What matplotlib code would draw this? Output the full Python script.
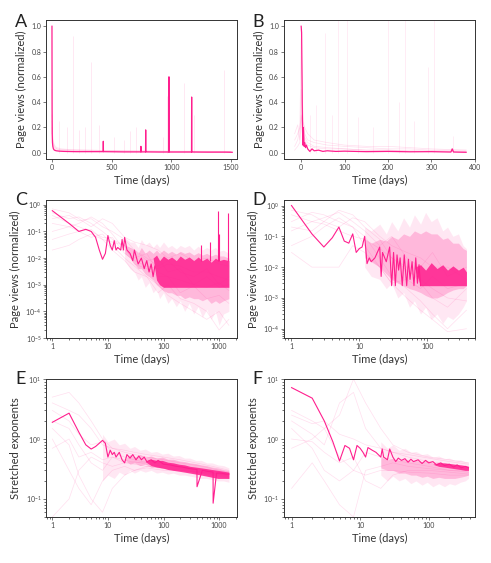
import matplotlib
matplotlib.use("Agg")
import matplotlib.pyplot as plt
from matplotlib.ticker import NullFormatter

plt.rcParams['font.family'] = ['Lato', 'DejaVu Sans']

MAIN = "#ff1f8e"
FAINT = "#ff4da6"

# ---------------- panel A (linear, full range) ----------------
A_main_t = [0, 1, 2, 4, 7, 12, 20, 35, 60, 100, 200, 300, 429, 430, 431, 600,
            744, 745, 746, 784, 785, 786, 900, 979, 980, 981, 1100, 1169, 1170,
            1171, 1300, 1450, 1510]
A_main_v = [1.0, 0.35, 0.15, 0.08, 0.05, 0.03, 0.02, 0.015, 0.012, 0.01, 0.008,
            0.008, 0.008, 0.09, 0.008, 0.006, 0.006, 0.05, 0.006, 0.006, 0.18,
            0.006, 0.005, 0.005, 0.6, 0.005, 0.005, 0.005, 0.44, 0.005, 0.004,
            0.004, 0.003]
A_faint_t = [0, 2, 5, 10, 20, 40, 80, 150, 300, 600, 1000, 1500]
A_faint = [
    [0.3, 0.2, 0.12, 0.08, 0.05, 0.03, 0.02, 0.02, 0.015, 0.01, 0.01, 0.008],
    [0.25, 0.15, 0.1, 0.06, 0.04, 0.03, 0.025, 0.02, 0.02, 0.015, 0.012, 0.01],
    [0.15, 0.2, 0.08, 0.05, 0.03, 0.02, 0.015, 0.01, 0.01, 0.008, 0.006, 0.005],
    [0.5, 0.3, 0.15, 0.1, 0.06, 0.04, 0.03, 0.025, 0.02, 0.015, 0.01, 0.01],
]
A_spike_t = [60, 130, 175, 230, 280, 330, 390, 520, 600, 650, 700, 930, 960, 1110, 1190, 1440]
A_spike_h = [0.25, 0.2, 0.92, 0.18, 0.2, 0.72, 0.22, 0.12, 0.1, 0.17, 0.2, 0.12, 0.45, 0.55, 0.3, 0.65]

# ---------------- panel B (linear, one year) ----------------
B_main_t = [0, 1, 2, 3, 4, 5, 6, 7, 8, 10, 12, 15, 20, 25, 30, 40, 50, 60, 80,
            100, 150, 200, 250, 300, 345, 348, 351, 380]
B_main_v = [1.0, 0.95, 0.6, 0.2, 0.06, 0.2, 0.12, 0.05, 0.08, 0.04, 0.06, 0.03,
            0.01, 0.03, 0.015, 0.02, 0.01, 0.015, 0.01, 0.012, 0.008, 0.01,
            0.007, 0.008, 0.005, 0.03, 0.005, 0.003]
B_faint_t = [-15, -8, -3, 0, 3, 8, 15, 30, 60, 100, 150, 200, 250, 300, 380]
B_faint = [
    [0.15, 0.22, 0.1, 0.25, 0.3, 0.15, 0.1, 0.08, 0.06, 0.05, 0.04, 0.03, 0.03, 0.02, 0.02],
    [0.05, 0.1, 0.2, 0.3, 0.2, 0.1, 0.06, 0.04, 0.03, 0.03, 0.02, 0.02, 0.015, 0.015, 0.01],
    [0.02, 0.05, 0.08, 0.5, 0.25, 0.2, 0.15, 0.1, 0.08, 0.06, 0.05, 0.05, 0.04, 0.03, 0.02],
    [0.1, 0.15, 0.2, 0.9, 0.4, 0.12, 0.08, 0.05, 0.04, 0.03, 0.02, 0.02, 0.01, 0.01, 0.01],
]
B_spike_t = [20, 35, 55, 70, 85, 105, 130, 165, 200, 225, 240, 260, 293, 307, 350]
B_spike_h = [0.3, 0.38, 0.95, 0.3, 1.05, 1.05, 0.28, 0.2, 1.05, 0.4, 1.05, 0.25, 0.68, 1.05, 0.13]

# ---------------- panel C (log-log, full range) ----------------
C_main_t = [1, 2, 3, 4, 5, 6, 7, 8, 9, 10, 11, 12, 13, 14, 15, 17, 18, 19, 20,
            22, 25, 28, 30, 35, 40, 45, 50, 55, 60, 65, 70]
C_main_v = [0.6, 0.2, 0.1, 0.12, 0.1, 0.06, 0.02, 0.009, 0.015, 0.07, 0.03,
            0.02, 0.045, 0.02, 0.025, 0.02, 0.05, 0.02, 0.06, 0.02, 0.015, 0.008,
            0.02, 0.006, 0.01, 0.004, 0.008, 0.003, 0.006, 0.002, 0.005]
C_spike_t = [480, 700, 960, 1000, 1450]
C_spike_h = [0.03, 0.04, 0.6, 0.08, 0.5]
C_faint_t = [1, 2, 3, 5, 8, 12, 20, 30, 50, 80, 120, 200, 350, 600, 1000, 1500]
C_faint = [
    [0.5, 0.3, 0.35, 0.2, 0.1, 0.05, 0.03, 0.02, 0.01, 0.005, 0.008, 0.003, 0.002, 0.004, 0.001, 0.002],
    [0.3, 0.4, 0.25, 0.3, 0.15, 0.1, 0.05, 0.02, 0.008, 0.01, 0.003, 0.004, 0.001, 0.0008, 0.0012, 0.0006],
    [0.1, 0.15, 0.2, 0.35, 0.2, 0.08, 0.02, 0.01, 0.015, 0.003, 0.002, 0.0005, 0.0009, 0.0003, 0.0004, 0.0002],
    [0.05, 0.08, 0.1, 0.06, 0.08, 0.03, 0.01, 0.005, 0.002, 0.001, 0.0004, 0.0002, 0.0001, 0.00005, 0.0001, 0.00003],
    [0.7, 0.5, 0.3, 0.15, 0.3, 0.2, 0.06, 0.04, 0.03, 0.02, 0.01, 0.015, 0.008, 0.01, 0.006, 0.005],
    [0.02, 0.03, 0.05, 0.08, 0.05, 0.02, 0.008, 0.003, 0.002, 0.0005, 0.001, 0.0003, 0.0002, 0.0001, 0.00002, 0.00005],
    [0.2, 0.15, 0.1, 0.12, 0.05, 0.04, 0.03, 0.006, 0.004, 0.002, 0.002, 0.0015, 0.001, 0.002, 0.0008, 0.001],
    [0.4, 0.2, 0.15, 0.1, 0.06, 0.06, 0.015, 0.008, 0.005, 0.004, 0.006, 0.005, 0.003, 0.003, 0.002, 0.0015],
]
C_band_t = [20, 25, 30, 35, 40, 47, 55, 65, 75, 85, 100, 120, 140, 170, 200,
            240, 290, 350, 420, 500, 600, 720, 860, 1000, 1200, 1500]
C_outer_lo = [8e-3, 4e-3, 3e-3, 1.5e-3, 2e-3, 8e-4, 1.2e-3, 5e-4, 7e-4, 3e-4,
              5e-4, 2e-4, 3e-4, 1.5e-4, 2.5e-4, 1e-4, 2e-4, 8e-5, 1.5e-4, 6e-5,
              1.2e-4, 5e-5, 1e-4, 3e-5, 8e-5, 1e-4]
C_outer_hi = [6e-2, 4e-2, 4e-2, 2.5e-2, 5e-2, 3e-2, 4e-2, 2.5e-2, 3.5e-2, 2.5e-2,
              4e-2, 2.5e-2, 3e-2, 2.2e-2, 3e-2, 2.5e-2, 3e-2, 2e-2, 2.8e-2, 2e-2,
              2.5e-2, 2e-2, 2.5e-2, 1.8e-2, 2e-2, 1.5e-2]
C_mid_lo = [1.5e-2, 1e-2, 6e-3, 4e-3, 4e-3, 2.5e-3, 2e-3, 1.5e-3, 1e-3, 8e-4,
            6e-4, 5e-4, 5e-4, 4e-4, 4e-4, 3e-4, 3.5e-4, 3e-4, 3e-4, 2.5e-4,
            3e-4, 2e-4, 2.5e-4, 2e-4, 2.5e-4, 3e-4]
C_mid_hi = [3e-2, 2.5e-2, 2e-2, 1.5e-2, 2.5e-2, 1.5e-2, 2e-2, 1.5e-2, 2e-2, 1.5e-2,
            2e-2, 1.5e-2, 1.8e-2, 1.4e-2, 1.8e-2, 1.5e-2, 1.7e-2, 1.3e-2, 1.6e-2,
            1.3e-2, 1.5e-2, 1.2e-2, 1.4e-2, 1.2e-2, 1.2e-2, 1e-2]
C_inner_lo = [1e-2, 1e-2, 1e-2, 1e-2, 1e-2, 1e-2, 1e-2, 1e-2, 1.5e-3, 1e-3,
              8e-4, 8e-4, 8e-4, 8e-4, 8e-4, 8e-4, 8e-4, 8e-4, 8e-4, 8e-4,
              8e-4, 8e-4, 8e-4, 8e-4, 8e-4, 8e-4]
C_inner_hi = [1e-2, 1e-2, 1e-2, 1e-2, 1e-2, 1e-2, 1e-2, 1e-2, 1.3e-2, 8e-3,
              1.2e-2, 9e-3, 1.1e-2, 8e-3, 1.2e-2, 9e-3, 1.1e-2, 8e-3, 1.1e-2,
              8e-3, 1e-2, 7e-3, 1e-2, 8e-3, 9e-3, 8e-3]

# ---------------- panel D (log-log, one year) ----------------
D_main_t = [1, 2, 3, 4, 5, 6, 7, 8, 9, 10, 11, 12, 13, 14, 15, 17, 20, 21, 22,
            25, 28, 30, 32, 34, 36, 38, 40, 43, 46, 50, 53, 56, 60, 64, 68, 72,
            76, 80]
D_main_v = [1.0, 0.12, 0.045, 0.09, 0.2, 0.07, 0.06, 0.12, 0.03, 0.04, 0.045,
            0.1, 0.013, 0.02, 0.015, 0.02, 0.045, 0.005, 0.03, 0.015, 0.045,
            0.0025, 0.03, 0.0025, 0.025, 0.008, 0.02, 0.0025, 0.025, 0.0025,
            0.018, 0.004, 0.015, 0.0025, 0.02, 0.003, 0.012, 0.0025]
D_faint_t = [1, 2, 3, 5, 8, 12, 20, 30, 50, 80, 120, 200, 380]
D_faint = [
    [0.5, 0.3, 0.4, 0.6, 0.3, 0.15, 0.05, 0.1, 0.02, 0.01, 0.03, 0.005, 0.01],
    [0.2, 0.15, 0.3, 0.7, 0.5, 0.2, 0.08, 0.02, 0.01, 0.003, 0.001, 0.0005, 0.002],
    [0.05, 0.1, 0.2, 0.4, 0.2, 0.1, 0.02, 0.005, 0.002, 0.0008, 0.0003, 0.0001, 0.0004],
    [0.03, 0.01, 0.01, 0.01, 0.05, 0.03, 0.01, 0.003, 0.004, 0.002, 0.005, 0.002, 0.003],
    [0.7, 0.5, 0.3, 0.2, 0.4, 0.3, 0.1, 0.05, 0.03, 0.02, 0.01, 0.01, 0.004],
    [0.15, 0.3, 0.25, 0.15, 0.1, 0.08, 0.04, 0.02, 0.008, 0.004, 0.002, 0.001, 0.0008],
    [0.3, 0.6, 0.5, 0.3, 0.2, 0.05, 0.01, 0.003, 0.001, 0.0004, 0.0002, 0.00008, 0.0001],
]
D_band_t = [12, 15, 20, 25, 30, 37, 45, 55, 65, 80, 95, 115, 140, 170, 200,
            240, 290, 340, 380]
D_outer_lo = [0.01, 0.005, 0.004, 0.002, 0.003, 0.001, 0.0015, 5e-4, 8e-4, 3e-4,
              5e-4, 2e-4, 3e-4, 1.5e-4, 2.5e-4, 2e-4, 3e-4, 5e-4, 8e-4]
D_outer_hi = [0.2, 0.15, 0.25, 0.12, 0.3, 0.15, 0.4, 0.2, 0.5, 0.25, 0.6, 0.3,
              0.4, 0.15, 0.2, 0.1, 0.12, 0.05, 0.04]
D_mid_lo = [0.02, 0.015, 0.01, 0.006, 0.004, 0.003, 0.0025, 0.002, 0.0018,
            0.0015, 0.0012, 0.001, 0.001, 0.0012, 0.0015, 0.0018, 0.002, 0.002,
            0.0025]
D_mid_hi = [0.08, 0.06, 0.08, 0.07, 0.1, 0.08, 0.12, 0.1, 0.15, 0.12, 0.15,
            0.12, 0.12, 0.08, 0.09, 0.06, 0.06, 0.04, 0.035]
D_inner_lo = [0.01, 0.01, 0.01, 0.01, 0.01, 0.01, 0.01, 0.01, 0.01, 0.0025,
              0.0025, 0.0025, 0.0025, 0.0025, 0.0025, 0.0025, 0.0025, 0.0025, 0.0025]
D_inner_hi = [0.01, 0.01, 0.01, 0.01, 0.01, 0.01, 0.01, 0.01, 0.01, 0.012,
              0.008, 0.014, 0.009, 0.012, 0.008, 0.011, 0.008, 0.01, 0.007]

# ---------------- panel E (stretched exponents, full range) ----------------
E_main_t = [1, 2, 3, 4, 5, 6, 7, 8, 9, 10, 11, 12, 13, 14, 16, 18, 20, 22, 25,
            28, 32, 36, 40, 45, 50, 60, 70, 80, 100, 130, 170, 220, 300, 400,
            401, 500, 600, 780, 781, 900, 1100, 1300, 1500]
E_main_v = [1.9, 2.7, 1.3, 0.8, 0.68, 0.75, 0.85, 0.95, 0.85, 0.5, 0.65, 0.55,
            0.6, 0.5, 0.6, 0.45, 0.4, 0.55, 0.48, 0.55, 0.45, 0.52, 0.45, 0.5,
            0.42, 0.45, 0.4, 0.44, 0.38, 0.37, 0.35, 0.34, 0.32, 0.31, 0.16,
            0.3, 0.29, 0.28, 0.085, 0.27, 0.27, 0.26, 0.26]
E_faint_t = [1, 2, 3, 5, 8, 12, 20, 30, 50, 100, 200, 500, 1000, 1500]
E_faint = [
    [5.0, 6.0, 4.0, 2.0, 1.0, 0.7, 0.6, 0.55, 0.5, 0.45, 0.4, 0.35, 0.3, 0.28],
    [3.0, 2.0, 1.2, 0.8, 0.9, 0.6, 0.5, 0.45, 0.4, 0.38, 0.33, 0.3, 0.27, 0.25],
    [2.0, 1.5, 0.8, 0.4, 0.3, 0.5, 0.4, 0.42, 0.38, 0.35, 0.32, 0.28, 0.26, 0.24],
    [1.0, 0.3, 0.15, 0.08, 0.2, 0.3, 0.35, 0.3, 0.33, 0.3, 0.3, 0.27, 0.25, 0.23],
    [0.7, 1.0, 0.5, 0.6, 0.45, 0.5, 0.45, 0.4, 0.42, 0.4, 0.35, 0.3, 0.28, 0.26],
    [4.0, 3.0, 2.5, 1.5, 0.8, 0.7, 0.65, 0.6, 0.55, 0.5, 0.45, 0.38, 0.33, 0.3],
    [1.5, 0.8, 0.25, 0.1, 0.06, 0.15, 0.25, 0.3, 0.35, 0.32, 0.3, 0.28, 0.26, 0.24],
    [0.05, 0.1, 0.3, 0.5, 0.4, 0.35, 0.4, 0.38, 0.35, 0.33, 0.3, 0.28, 0.26, 0.25],
]
E_band_t = [8, 10, 13, 16, 20, 25, 30, 38, 47, 60, 75, 95, 120, 150, 190, 240,
            300, 380, 480, 600, 750, 950, 1200, 1500]
E_outer_lo = [0.2, 0.25, 0.22, 0.28, 0.25, 0.3, 0.27, 0.3, 0.28, 0.3, 0.27, 0.28,
              0.26, 0.27, 0.25, 0.25, 0.24, 0.23, 0.22, 0.22, 0.21, 0.2, 0.2, 0.19]
E_outer_hi = [1.2, 0.9, 1.0, 0.8, 0.85, 0.7, 0.75, 0.65, 0.68, 0.6, 0.62, 0.56,
              0.58, 0.52, 0.53, 0.48, 0.48, 0.44, 0.44, 0.4, 0.4, 0.37, 0.36, 0.33]
E_mid_lo = [0.45, 0.45, 0.45, 0.45, 0.45, 0.38, 0.4, 0.36, 0.38, 0.34, 0.35, 0.32,
            0.33, 0.3, 0.31, 0.29, 0.29, 0.27, 0.27, 0.25, 0.25, 0.24, 0.23, 0.22]
E_mid_hi = [0.45, 0.45, 0.45, 0.45, 0.45, 0.55, 0.5, 0.55, 0.5, 0.52, 0.48, 0.5,
            0.46, 0.46, 0.43, 0.42, 0.4, 0.39, 0.37, 0.36, 0.34, 0.33, 0.31, 0.3]
E_inner_lo = [0.42, 0.42, 0.42, 0.42, 0.42, 0.42, 0.42, 0.42, 0.42, 0.36, 0.34,
              0.33, 0.31, 0.3, 0.29, 0.28, 0.27, 0.26, 0.25, 0.24, 0.23, 0.22,
              0.22, 0.22]
E_inner_hi = [0.42, 0.42, 0.42, 0.42, 0.42, 0.42, 0.42, 0.42, 0.42, 0.46, 0.44,
              0.44, 0.41, 0.4, 0.38, 0.37, 0.35, 0.34, 0.33, 0.32, 0.31, 0.3,
              0.29, 0.28]

# ---------------- panel F (stretched exponents, one year) ----------------
F_main_t = [1, 2, 3, 4, 5, 6, 7, 8, 9, 10, 11, 12, 13, 15, 17, 20, 21, 22, 25,
            27, 30, 33, 36, 40, 45, 50, 55, 60, 70, 80, 90, 100, 115, 130, 150,
            170, 200, 230, 260, 300, 340, 380]
F_main_v = [7.2, 4.8, 2.0, 0.9, 0.43, 0.78, 0.7, 0.45, 0.78, 0.7, 0.6, 0.5,
            0.72, 0.65, 0.6, 0.5, 0.68, 0.5, 0.45, 0.68, 0.5, 0.42, 0.48, 0.44,
            0.47, 0.41, 0.46, 0.42, 0.45, 0.39, 0.44, 0.4, 0.42, 0.37, 0.4,
            0.36, 0.38, 0.34, 0.37, 0.33, 0.35, 0.33]
F_faint_t = [1, 2, 3, 5, 8, 12, 20, 30, 50, 100, 200, 380]
F_faint = [
    [3.0, 2.0, 1.5, 2.5, 10.0, 4.0, 1.5, 0.8, 0.6, 0.5, 0.45, 0.4],
    [2.0, 1.2, 0.8, 4.0, 6.0, 1.5, 0.7, 0.6, 0.5, 0.42, 0.38, 0.35],
    [1.5, 0.7, 0.3, 0.2, 0.3, 0.25, 0.3, 0.3, 0.28, 0.27, 0.25, 0.25],
    [0.7, 1.0, 1.5, 0.5, 0.3, 0.6, 0.5, 0.45, 0.4, 0.35, 0.3, 0.3],
    [0.15, 0.4, 0.2, 0.08, 0.05, 0.3, 0.35, 0.4, 0.35, 0.32, 0.3, 0.28],
    [1.0, 0.9, 0.6, 0.4, 0.5, 0.2, 0.15, 0.25, 0.3, 0.3, 0.28, 0.26],
    [2.5, 1.8, 2.0, 1.2, 1.0, 0.8, 0.7, 0.6, 0.55, 0.48, 0.42, 0.38],
]
F_band_t = [20, 25, 30, 37, 45, 55, 65, 80, 95, 115, 140, 170, 200, 240, 290, 340, 380]
F_outer_lo = [0.25, 0.2, 0.24, 0.2, 0.22, 0.18, 0.2, 0.17, 0.19, 0.16, 0.18, 0.16,
              0.18, 0.17, 0.19, 0.2, 0.22]
F_outer_hi = [0.9, 0.7, 0.8, 0.65, 0.7, 0.6, 0.62, 0.55, 0.57, 0.5, 0.52, 0.47,
              0.48, 0.44, 0.45, 0.42, 0.41]
F_mid_lo = [0.33, 0.3, 0.3, 0.27, 0.27, 0.25, 0.25, 0.23, 0.24, 0.22, 0.23, 0.22,
            0.22, 0.22, 0.23, 0.24, 0.25]
F_mid_hi = [0.5, 0.45, 0.47, 0.44, 0.46, 0.43, 0.44, 0.42, 0.43, 0.4, 0.41, 0.39,
            0.39, 0.37, 0.37, 0.36, 0.35]
F_inner_lo = [0.38, 0.38, 0.38, 0.38, 0.38, 0.38, 0.38, 0.38, 0.38, 0.38, 0.35,
              0.34, 0.33, 0.32, 0.31, 0.3, 0.3]
F_inner_hi = [0.38, 0.38, 0.38, 0.38, 0.38, 0.38, 0.38, 0.38, 0.38, 0.38, 0.4,
              0.4, 0.39, 0.38, 0.37, 0.36, 0.35]


def style_axes(ax, ylabel):
    for s in ax.spines.values():
        s.set_linewidth(0.7)
        s.set_color("#333333")
    ax.tick_params(direction="out", length=2, width=0.5, labelsize=5,
                   labelcolor="#444444", colors="#444444", pad=1.5)
    ax.tick_params(which="minor", length=1.2, width=0.4)
    ax.set_xlabel("Time (days)", fontsize=8, labelpad=3, color="#333333")
    ax.set_ylabel(ylabel, fontsize=8, labelpad=3, color="#333333")


def draw_faint(ax, t, series):
    for s in series:
        ax.plot(t, s, color=FAINT, lw=0.5, alpha=0.18, zorder=1)


def draw_bands(ax, t, olo, ohi, mlo, mhi, ilo, ihi):
    ax.fill_between(t, olo, ohi, color=FAINT, alpha=0.13, lw=0, zorder=1)
    ax.fill_between(t, mlo, mhi, color=FAINT, alpha=0.3, lw=0, zorder=1)
    ax.fill_between(t, ilo, ihi, color=MAIN, alpha=0.85, lw=0, zorder=2)


def log_axes(ax, xlim, ylim, xticks, ymajor=None):
    ax.set_xscale("log")
    ax.set_yscale("log")
    ax.set_xlim(*xlim)
    ax.set_ylim(*ylim)
    ax.set_xticks(xticks)
    ax.set_xticklabels([str(x) for x in xticks])
    if ymajor is not None:
        ax.set_yticks(ymajor)
    ax.yaxis.set_minor_formatter(NullFormatter())


fig = plt.figure(figsize=(4.91, 5.63), dpi=100)
lx, rx = 0.0937, 0.578
w = 0.389
axA = fig.add_axes([lx, 0.7176, w, 0.247])
axB = fig.add_axes([rx, 0.7176, w, 0.247])
axC = fig.add_axes([lx, 0.3996, w, 0.245])
axD = fig.add_axes([rx, 0.3996, w, 0.245])
axE = fig.add_axes([lx, 0.0817, w, 0.245])
axF = fig.add_axes([rx, 0.0817, w, 0.245])

# A
draw_faint(axA, A_faint_t, A_faint)
axA.vlines(A_spike_t, 0, A_spike_h, color=FAINT, lw=0.6, alpha=0.15, zorder=1)
axA.plot(A_main_t, A_main_v, color=MAIN, lw=0.9, zorder=3)
axA.set_xlim(-50, 1550)
axA.set_ylim(-0.05, 1.05)
axA.set_xticks([0, 500, 1000, 1500])
axA.set_yticks([0.0, 0.2, 0.4, 0.6, 0.8, 1.0])
style_axes(axA, "Page views (normalized)")

# B
draw_faint(axB, B_faint_t, B_faint)
axB.vlines(B_spike_t, 0, B_spike_h, color=FAINT, lw=0.6, alpha=0.12, zorder=1)
axB.plot(B_main_t, B_main_v, color=MAIN, lw=0.9, zorder=3)
axB.set_xlim(-40, 400)
axB.set_ylim(-0.05, 1.05)
axB.set_xticks([0, 100, 200, 300, 400])
axB.set_yticks([0.0, 0.2, 0.4, 0.6, 0.8, 1.0])
style_axes(axB, "Page views (normalized)")

# C
draw_faint(axC, C_faint_t, C_faint)
draw_bands(axC, C_band_t, C_outer_lo, C_outer_hi, C_mid_lo, C_mid_hi,
           C_inner_lo, C_inner_hi)
axC.plot(C_main_t, C_main_v, color=MAIN, lw=0.8, zorder=3)
axC.vlines(C_spike_t, 0.008, C_spike_h, color=MAIN, lw=0.8, zorder=3)
log_axes(axC, (0.77, 2100), (1e-5, 1.5), [1, 10, 100, 1000],
         [1e-5, 1e-4, 1e-3, 1e-2, 1e-1, 1])
style_axes(axC, "Page views (normalized)")

# D
draw_faint(axD, D_faint_t, D_faint)
draw_bands(axD, D_band_t, D_outer_lo, D_outer_hi, D_mid_lo, D_mid_hi,
           D_inner_lo, D_inner_hi)
axD.plot(D_main_t, D_main_v, color=MAIN, lw=0.8, zorder=3)
log_axes(axD, (0.77, 505), (5e-5, 1.5), [1, 10, 100],
         [1e-4, 1e-3, 1e-2, 1e-1, 1])
style_axes(axD, "Page views (normalized)")

# E
draw_faint(axE, E_faint_t, E_faint)
draw_bands(axE, E_band_t, E_outer_lo, E_outer_hi, E_mid_lo, E_mid_hi,
           E_inner_lo, E_inner_hi)
axE.plot(E_main_t, E_main_v, color=MAIN, lw=0.8, zorder=3)
log_axes(axE, (0.77, 2100), (0.05, 10), [1, 10, 100, 1000])
style_axes(axE, "Stretched exponents")

# F
draw_faint(axF, F_faint_t, F_faint)
draw_bands(axF, F_band_t, F_outer_lo, F_outer_hi, F_mid_lo, F_mid_hi,
           F_inner_lo, F_inner_hi)
axF.plot(F_main_t, F_main_v, color=MAIN, lw=0.8, zorder=3)
log_axes(axF, (0.77, 470), (0.05, 10), [1, 10, 100])
style_axes(axF, "Stretched exponents")

# panel letters
for letter, (px, py) in zip("ABCDEF", [(15, 22), (252, 22), (15, 200),
                                       (252, 200), (15, 379), (252, 379)]):
    fig.text(px / 491, 1 - py / 563, letter, fontsize=13, ha="left",
             va="center", color="#222222")

fig.savefig("out.png", dpi=100)
